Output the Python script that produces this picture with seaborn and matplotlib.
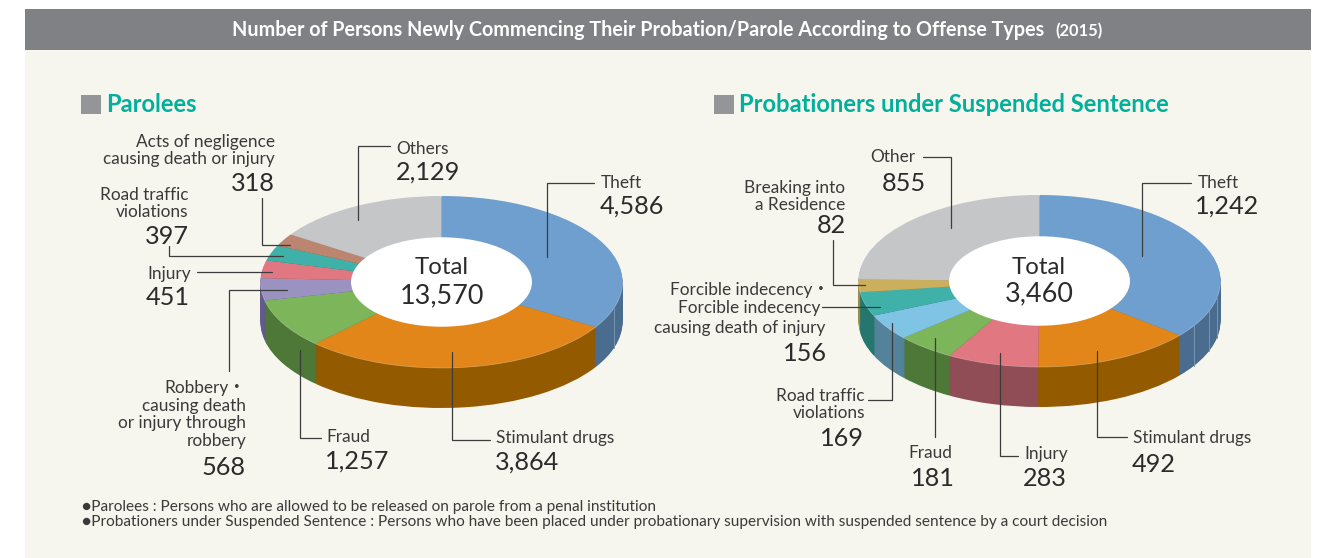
import numpy as np
import matplotlib
matplotlib.use('Agg')
import matplotlib.pyplot as plt
from matplotlib.patches import Ellipse, Rectangle
import seaborn as sns

# Data
parolee_labels = ['Theft', 'Stimulant drugs', 'Fraud', 'Robbery', 'Injury', 'Road traffic', 'Negligence', 'Others']
parolee_values = [4586, 3864, 1257, 568, 451, 397, 318, 2129]
probation_labels = ['Theft', 'Stimulant drugs', 'Injury', 'Fraud', 'Road traffic', 'Forcible indecency', 'Breaking in', 'Other']
probation_values = [1242, 492, 283, 181, 169, 156, 82, 855]

# Colours for top faces and the darker sides
parolee_top = ['#6F9FCE', '#E2861A', '#7DB55B', '#9A92C0', '#E07781', '#3FB1A9', '#BC8570', '#C5C6C8']
parolee_side = ['#4A6D8F', '#935A00', '#4D7838', '#635A8C', '#904D56', '#24766F', '#7C5545', '#8A8B8D']
probation_top = ['#6F9FCE', '#E2861A', '#E07781', '#7DB55B', '#7FC4E4', '#3FB1A9', '#CBAF5C', '#C5C6C8']
probation_side = ['#4A6D8F', '#935A00', '#904D56', '#4D7838', '#53829B', '#24766F', '#A08A45', '#8A8B8D']

W, H = 1326, 558
TEXT = '#3A3A3A'
LABEL_FONT = ['Lato', 'Noto Sans CJK JP', 'DejaVu Sans']

sns.set_theme(style='white')
fig = plt.figure(figsize=(W / 100, H / 100), dpi=100, facecolor='white')


def px_axes(x0, y0, x1, y1, z):
    return fig.add_axes([x0 / W, 1 - y1 / H, (x1 - x0) / W, (y1 - y0) / H], zorder=z)


# background panel and header bar
bg = px_axes(0, 0, W, H, 0)
bg.set_xlim(0, W)
bg.set_ylim(H, 0)
bg.axis('off')
bg.add_patch(Rectangle((25, 50), 1286, 508, color='#F6F6EE', lw=0))
bg.add_patch(Rectangle((25, 9), 1286, 41, color='#808184', lw=0))


def draw_pie(values, top, side, cx, cy, seams, rx=181, ry=86, depth=40):
    pad = 1.05
    ax = px_axes(cx - rx * pad, cy - ry * pad, cx + rx * pad, cy + ry * pad + depth, 1)
    d = depth / ry
    # stack of dark pies makes the side of the disc
    for off in np.arange(depth, 0, -1) / ry:
        ax.pie(values, colors=sns.color_palette(side), center=(0, -off), startangle=90,
               counterclock=False, wedgeprops={'linewidth': 0})
    ax.pie(values, colors=sns.color_palette(top), startangle=90, counterclock=False,
           wedgeprops={'linewidth': 0})
    ax.add_patch(Ellipse((0, 0), 1.0, 1.04, color='white', lw=0, zorder=5))
    # pale rim and the faint seams on the blue side
    t = np.linspace(np.pi, 2 * np.pi, 120)
    ax.plot(np.cos(t), np.sin(t), color='white', alpha=0.35, lw=0.5, zorder=4)
    for s in seams:
        y = -np.sqrt(1 - s ** 2)
        ax.plot([s, s], [y, y - d], color='#7795B0', lw=0.7, zorder=4)
    ax.set_aspect('auto')
    ax.set_xlim(-pad, pad)
    ax.set_ylim(-pad - d, pad)
    return ax


draw_pie(parolee_values, parolee_top, parolee_side, 441.5, 282, [0.953])
draw_pie(probation_values, probation_top, probation_side, 1039.5, 281, [0.854, 0.937, 0.981])

# overlay for text and leader lines, in pixel coordinates
ov = px_axes(0, 0, W, H, 2)
ov.set_xlim(0, W)
ov.set_ylim(H, 0)
ov.axis('off')
ov.patch.set_alpha(0)


def txt(x, y, s, size=17.2, ha='left', color=TEXT, family=LABEL_FONT, **kw):
    kw.setdefault('linespacing', 1.15)
    ov.text(x, y + 1.5, s, fontsize=size * 0.72, ha=ha, va='center', color=color, family=family, **kw)


def num(x, y, v, ha='left', size=25.2):
    txt(x, y, f'{v:,}', size=size, ha=ha, color='#2B2B2B')


def leader(*pts):
    xs, ys = zip(*pts)
    ov.plot(xs, ys, color='#3C3C3C', lw=0.9, solid_joinstyle='miter')


# header
txt(232, 29, 'Number of Persons Newly Commencing Their Probation/Parole According to Offense Types',
    size=19.8, color='white', fontweight='bold')
txt(1055, 29.5, '(2015)', size=16.5, color='white', fontweight='bold')

# panel titles
for sq_x, tx, title in [(81, 106, 'Parolees'), (714, 739, 'Probationers under Suspended Sentence')]:
    ov.add_patch(Rectangle((sq_x, 95), 20, 19, color='#939598', lw=0))
    txt(tx, 103.5, title, size=23.8, color='#00B09B', fontweight='bold')

# Parolees labels
txt(601, 181, 'Theft')
num(600, 205, parolee_values[0])
leader((594, 183), (547, 183), (547, 257))
txt(496, 436, 'Stimulant drugs')
num(495, 461, parolee_values[1])
leader((490, 440), (452, 440), (452, 352))
txt(326, 435, 'Fraud')
num(325, 460, parolee_values[2])
leader((321, 438), (300, 438), (300, 350))
txt(246, 413, 'Robbery・\ncausing death\nor injury through\nrobbery', ha='right')
num(246, 466, parolee_values[3], ha='right')
leader((229, 371), (229, 290), (287, 290))
txt(191, 272, 'Injury', ha='right')
num(190, 296, parolee_values[4], ha='right')
leader((197, 272), (272, 272))
txt(188, 202, 'Road traffic\nviolations', ha='right')
num(189, 235, parolee_values[5], ha='right')
leader((169, 246), (169, 256), (283, 256))
txt(275, 149, 'Acts of negligence\ncausing death or injury', ha='right')
num(275, 182, parolee_values[6], ha='right')
leader((262, 198), (262, 245), (290, 245))
txt(396, 147, 'Others')
num(396, 171, parolee_values[7])
leader((390, 146), (358, 146), (358, 220))
txt(442, 266, 'Total', size=24, ha='center', color='#2B2B2B')
num(442, 294, sum(parolee_values), ha='center', size=27)

# Probationers labels
txt(1198, 181, 'Theft')
num(1195, 205, probation_values[0])
leader((1191, 183), (1142, 183), (1142, 256))
txt(1133, 437, 'Stimulant drugs')
num(1132, 463, probation_values[1])
leader((1127, 437), (1097, 437), (1097, 351))
txt(1024, 452, 'Injury')
num(1023, 477, probation_values[2])
leader((1018, 456), (1000, 456), (1000, 353))
txt(952, 451, 'Fraud', ha='right')
num(955, 477, probation_values[3], ha='right')
leader((935, 437), (935, 338))
txt(865, 403, 'Road traffic\nviolations', ha='right')
num(864, 437, probation_values[4], ha='right')
leader((868, 400), (892, 400), (892, 323))
txt(830, 288, 'Forcible indecency・', ha='right')
txt(820, 307, 'Forcible indecency', ha='right')
txt(825, 326, 'causing death of injury', ha='right')
num(827, 352, probation_values[5], ha='right')
leader((822, 307), (880, 307))
txt(845, 195, 'Breaking into\na Residence', ha='right')
num(846, 224, probation_values[6], ha='right')
leader((833, 240), (833, 285), (865, 285))
txt(915, 155, 'Other', ha='right')
num(926, 182, probation_values[7], ha='right')
leader((923, 157), (951, 157), (951, 228))
txt(1039, 266, 'Total', size=24, ha='center', color='#2B2B2B')
num(1039, 292, sum(probation_values), ha='center', size=27)

# footnotes
txt(82, 505.5, '●Parolees : Persons who are allowed to be released on parole from a penal institution', size=15.4)
txt(82, 520.5, '●Probationers under Suspended Sentence : Persons who have been placed under probationary supervision with suspended sentence by a court decision', size=15.4)

fig.savefig('out.png', dpi=100)
